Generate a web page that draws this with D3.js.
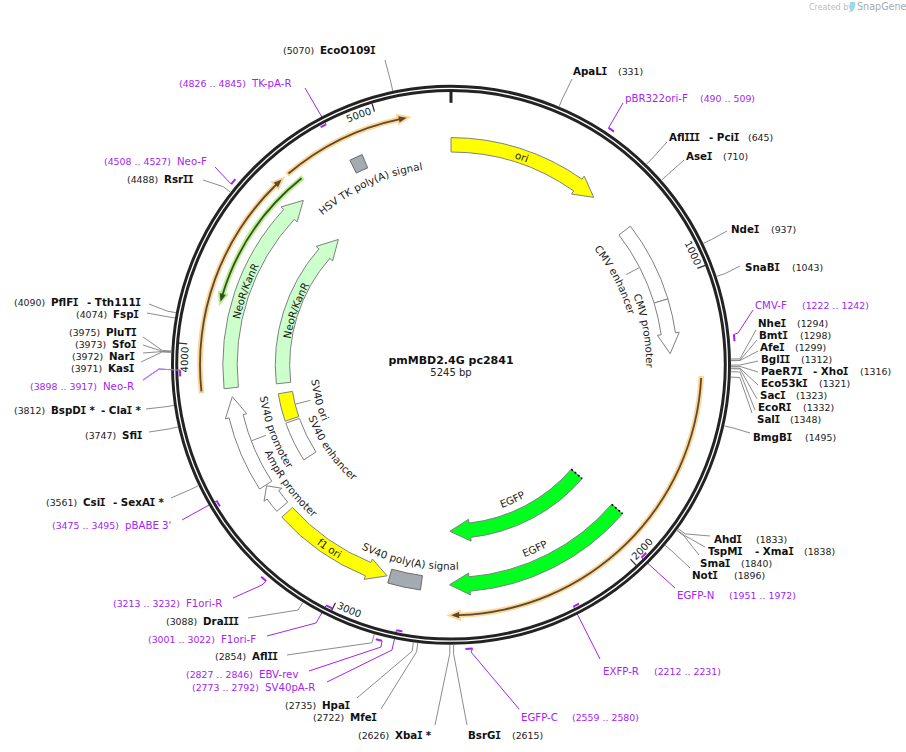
<!DOCTYPE html>
<html><head><meta charset="utf-8">
<script src="https://cdn.jsdelivr.net/npm/d3@7"></script>
<style>
html,body{margin:0;padding:0;background:#fff}
svg{display:block}
text{font-family:"DejaVu Sans",sans-serif}
</style></head><body><div id="c"></div>
<script>
// ---------- data ----------
const plasmidName = "pmMBD2.4G pc2841";
const plasmidLength = 5245;
const tickValues = [1000,2000,3000,4000,5000];

const featureNames  = ["ori","CMV enhancer","CMV promoter","orf-a","EGFP","EGFP","SV40 poly(A) signal","f1 ori","AmpR promoter","SV40 promoter","SV40 enhancer","SV40 ori","NeoR/KanR","NeoR/KanR","orf-b","orf-c","orf-d","HSV TK poly(A) signal"];
const featureStarts = [0,762,1065,1355,1908,1908,2735,2868,3350,3453,3455,3660,3846,3843,3845,4157,4657,4862];
const featureEnds   = [589,1065,1269,2622,2628,2628,2858,3322,3449,3813,3650,3795,4634,4634,4627,4681,5097,4911];
const featureDirs   = [1,0,1,1,1,1,0,-1,1,1,0,0,1,1,1,-1,1,0];

const siteNames  = ["EcoO109I","ApaLI","AflIII","AseI","NdeI","SnaBI","NheI","BmtI","AfeI","BglII","PaeR7I","Eco53kI","SacI","EcoRI","SalI","BmgBI","AhdI","TspMI","SmaI","NotI","BsrGI","XbaI *","MfeI","HpaI","AflII","DraIII","CsiI","SfiI","BspDI *","KasI","NarI","SfoI","PluTI","FspI","PflFI","RsrII"];
const siteAlso   = ["","","- PciI","","","","","","","","- XhoI","","","","","","","- XmaI","","","","","","","","","- SexAI *","","- ClaI *","","","","","","- Tth111I",""];
const siteBp     = [5070,331,645,710,937,1043,1294,1298,1299,1312,1316,1321,1323,1332,1348,1495,1833,1838,1840,1896,2615,2626,2722,2735,2854,3088,3561,3747,3812,3971,3972,3973,3975,4074,4090,4488];

const primerNames  = ["pBR322ori-F","CMV-F","EGFP-N","EXFP-R","EGFP-C","SV40pA-R","EBV-rev","F1ori-F","F1ori-R","pBABE 3'","Neo-R","Neo-F","TK-pA-R"];
const primerStarts = [490,1222,1951,2212,2559,2773,2827,3001,3213,3475,3898,4508,4826];
const primerEnds   = [509,1242,1972,2231,2580,2792,2846,3022,3232,3495,3917,4527,4845];
const primerDirs   = [1,1,-1,-1,1,-1,1,-1,1,-1,-1,1,-1];

// ---------- layout (no values) ----------
const W=906,H=752,cx=451,cy=364.8;
const featureLayout = [
 [220,"yellow"],[219.5,"white"],[219.5,"white"],[250.5,"orange"],[220,"egfp"],[166.5,"egfp"],[220,"gray"],
 [220.5,"yellow"],[220.5,"white"],[221,"white"],[168,"white"],[168,"yellow"],[221,"lime"],[168.5,"lime"],
 [251,"orange"],[239,"green"],[251,"orange"],[221,"gray"]];
// site label: leader end x,y ; name x ; number x ; baseline ; also x
const siteLayout = [
 [385,60,320,283,54],[572,79,573,618,75],[667,142,669,748,141,709],[684,160,686,723,160],[727,231,731,771,233],[740,266,745,792,271],
 [756,330,758,797,327],[757,340,759,800,339],[758,351,760,795,351],[758,361,761,801,363],[758,372,761,860,375,813],[758,385,761,819,387],
 [757,399,760,796,399],[755,410,758,803,411],[752,413,757,790,423],[750,433,753,805,441],
 [710,536,714,756,543],[705,547,708,804,555,755],[699,555,700,741,567],[690,568,692,734,579],
 [467,725,468,512,739],[435,725,395,358,739],[381,709,350,313,721],[357,698,322,285,709],[287,655,252,215,660],[248,618,203,166,625],
 [171,498,83,46,506,113],[149,432,122,85,439],[146,409,51,14,414,101],[141,362,108,71,372],[143,353,109,72,360],[143,345,112,75,348],[143,337,106,69,336],
 [147,313,113,76,318],[149,304,51,14,306,87],[203,180,164,127,183]];
const siteElbowR = siteBp.map(()=>289);
// primer label: elbow x,y (or null) ; end x,y ; name x ; number x ; baseline
const primerLayout = [
 [null,623,103,625,700,102],[738,333,753,310,755,802,309],[null,675,588,677,729,599],[null,600,659,603,654,675],[471,652,519,709,521,572,721],
 [392,650,327,682,265,192,691],[381,647,309,671,259,186,678],[316,623,267,636,221,148,643],[262,585,233,598,186,113,607],
 [null,182,520,125,52,529],[159,369,143,380,103,30,390],[null,215,167,177,104,165],[null,305,88,252,179,87]];
const overRingPrimer = 10; // this leader is visibly painted across the ring
// curved labels: name, centre angle in degrees, baseline radius, direction
const curvedLabels = [
 ["ori",18.8,216,1],["CMV enhancer",62.6,184,1],["CMV promoter",80,195,1],["EGFP",155.5,206,-1],["EGFP",155.5,152,-1],
 ["SV40 poly(A) signal",191.9,205,-1],["f1 ori",213.5,224,-1],["AmpR promoter",233.5,206,-1],["SV40 promoter",249,194,-1],
 ["SV40 enhancer",235,152,-1],["SV40 ori",255,140.5,-1],["NeoR/KanR",289.7,216,1],["NeoR/KanR",289.3,162.5,1],["HSV TK poly(A) signal",335.5,197,1]];
const colors = {
 yellow:{fill:"#ffff00",stroke:"#808080"},white:{fill:"#ffffff",stroke:"#808080"},egfp:{fill:"#00ff1e",stroke:"#808080"},
 lime:{fill:"#ccffcc",stroke:"#808080"},gray:{fill:"#a4aab2",stroke:"#6b6b6b"}};
const halos = {orange:{halo:"#fdd596",line:"#5c4a30"},green:{halo:"#b9ee92",line:"#33521c"}};
const purple="#a425f0", leaderGray="#8c8c8c", ringColor="#232323";

// ---------- scale ----------
const angle = d3.scaleLinear().domain([0,plasmidLength]).range([0,2*Math.PI]);
const polar = (a,r)=>[cx+r*Math.sin(a),cy-r*Math.cos(a)];
const toCanvas = a=>a-Math.PI/2;

const svg = d3.select("#c").append("svg").attr("width",W).attr("height",H).attr("viewBox",`0 0 ${W} ${H}`);
const defs = svg.append("defs");

// ---------- shape builders ----------
function arcShape(a0,a1,rm,hw,headHw,headPx,dir){
  const p=d3.path();
  if(dir===0){
    const s=polar(a0,rm+hw); p.moveTo(s[0],s[1]);
    p.arc(cx,cy,rm+hw,toCanvas(a0),toCanvas(a1),false);
    p.arc(cx,cy,rm-hw,toCanvas(a1),toCanvas(a0),true);
    p.closePath(); return p.toString();
  }
  const tail=dir>0?a0:a1, tip=dir>0?a1:a0, ccw=dir<0;
  const base=tip-dir*headPx/rm;
  const s=polar(tail,rm+hw); p.moveTo(s[0],s[1]);
  p.arc(cx,cy,rm+hw,toCanvas(tail),toCanvas(base),ccw);
  let q=polar(base,rm+headHw); p.lineTo(q[0],q[1]);
  q=polar(tip,rm); p.lineTo(q[0],q[1]);
  q=polar(base,rm-headHw); p.lineTo(q[0],q[1]);
  q=polar(base,rm-hw); p.lineTo(q[0],q[1]);
  p.arc(cx,cy,rm-hw,toCanvas(base),toCanvas(tail),!ccw);
  p.closePath(); return p.toString();
}
const features = featureNames.map((n,i)=>({n,s:featureStarts[i],e:featureEnds[i],d:featureDirs[i],r:featureLayout[i][0],st:featureLayout[i][1]}));

// bold names: the capital I is set with serifs, as in the picture
function boldRuns(t,str){
  str.split(/(I)/).filter(s=>s.length).forEach(run=>{
    const sp=t.append("tspan").text(run);
    if(run==="I") sp.attr("font-family","DejaVu Sans Mono").attr("dx",-0.6).attr("letter-spacing",-0.6);
  });
}

// ---------- primer leaders go below the ring ----------
const gP0=svg.append("g");
const line=d3.line();
const primerLeader=i=>{
  const L=primerLayout[i], fwd=primerDirs[i]>0;
  const from=fwd?polar(angle(primerStarts[i]),284.5):polar(angle(primerEnds[i]),271);
  return line(L[0]===null?[from,[L[1],L[2]]]:[from,[L[0],L[1]],[L[2],L[3]]]);
};
primerNames.forEach((n,i)=>{
  gP0.append("path").attr("d",primerLeader(i)).attr("fill","none").attr("stroke",purple).attr("stroke-width",1);
});

// ---------- ring ----------
const gRing = svg.append("g");
gRing.append("circle").attr("cx",cx).attr("cy",cy).attr("r",276.4).attr("fill","none").attr("stroke",ringColor).attr("stroke-width",7.2);
gRing.append("circle").attr("cx",cx).attr("cy",cy).attr("r",276.4).attr("fill","none").attr("stroke","#fff").attr("stroke-width",1.3);
svg.append("path").attr("d",primerLeader(overRingPrimer)).attr("fill","none").attr("stroke","#c07cf2").attr("stroke-width",1.2);

// zero tick
const t0=polar(angle(0),273),t1=polar(angle(0),262);
svg.append("line").attr("x1",t0[0]).attr("y1",t0[1]).attr("x2",t1[0]).attr("y2",t1[1]).attr("stroke","#232323").attr("stroke-width",3);

// ticks
tickValues.forEach((v,i)=>{
  const a=angle(v), p0=polar(a,273), p1=polar(a,264.5);
  svg.append("line").attr("x1",p0[0]).attr("y1",p0[1]).attr("x2",p1[0]).attr("y2",p1[1]).attr("stroke","#333").attr("stroke-width",1.3);
  const top=!(a>Math.PI/2&&a<Math.PI*1.3);
  const r=top?263:269, id="tick"+i, span=0.35;
  const pth=d3.path(), off=3/r;
  if(top){ const s=polar(a-off-span,r); pth.moveTo(s[0],s[1]); pth.arc(cx,cy,r,toCanvas(a-off-span),toCanvas(a-off),false); }
  else   { const s=polar(a-off,r); pth.moveTo(s[0],s[1]); pth.arc(cx,cy,r,toCanvas(a-off),toCanvas(a-off-span),true); }
  defs.append("path").attr("id",id).attr("d",pth.toString());
  svg.append("text").attr("font-size",10).attr("fill","#222").attr("text-anchor",top?"end":"start")
    .append("textPath").attr("href","#"+id).attr("startOffset",top?"100%":"0%").text(v);
});

// ---------- features ----------
const gF=svg.append("g");
features.forEach(f=>{
  const a0=angle(f.s),a1=angle(f.e);
  if(halos[f.st]){
    gF.append("path").attr("d",arcShape(a0,a1,f.r,0.9,3.2,8,f.d)).attr("fill",halos[f.st].line)
      .attr("stroke",halos[f.st].halo).attr("stroke-width",3.6).attr("stroke-linejoin","miter").style("paint-order","stroke");
    return;
  }
  const hw=7.2;
  const len=(a1-a0)*f.r, head=Math.min(20,len*0.42);
  const c=colors[f.st];
  gF.append("path").attr("d",arcShape(a0,a1,f.r,hw,11,head,f.d)).attr("fill",c.fill).attr("stroke",c.stroke).attr("stroke-width",1);
  if(f.st==="egfp"){
    const p=polar(a0,f.r-hw),q=polar(a0,f.r+hw);
    gF.append("line").attr("x1",p[0]).attr("y1",p[1]).attr("x2",q[0]).attr("y2",q[1]).attr("stroke","#000").attr("stroke-width",1.6).attr("stroke-dasharray","2 2.4");
  }
});

// connector stubs from small labels to their features
[[angle(914),212,197],[angle(3727),160.5,145],[angle(3630),213.5,198]].forEach(([a,r0,r1])=>{
  const p=polar(a,r0),q=polar(a,r1);
  gF.append("line").attr("x1",p[0]).attr("y1",p[1]).attr("x2",q[0]).attr("y2",q[1]).attr("stroke","#888").attr("stroke-width",1);
});

// ---------- curved labels ----------
curvedLabels.forEach(([t,deg,r,dir],i)=>{
  const a=deg*Math.PI/180, span=1.2, id="cl"+i, p=d3.path();
  const a0=a-dir*span, a1=a+dir*span, s=polar(a0,r);
  p.moveTo(s[0],s[1]); p.arc(cx,cy,r,toCanvas(a0),toCanvas(a1),dir<0);
  defs.append("path").attr("id",id).attr("d",p.toString());
  svg.append("text").attr("font-size",10.3).attr("fill","#1a1a1a").attr("text-anchor","middle")
    .append("textPath").attr("href","#"+id).attr("startOffset","50%").text(t);
});

// ---------- sites ----------
const gS=svg.append("g");
siteNames.forEach((n,i)=>{
  const a=angle(siteBp[i]), L=siteLayout[i];
  gS.append("path").attr("d",line([polar(a,280),polar(a,siteElbowR[i]),[L[0],L[1]]])).attr("fill","none").attr("stroke",leaderGray).attr("stroke-width",1);
  boldRuns(gS.append("text").attr("x",L[2]).attr("y",L[4]).attr("font-size",10.3).attr("font-weight","bold").attr("fill","#111"),n);
  if(siteAlso[i]) boldRuns(gS.append("text").attr("x",L[5]).attr("y",L[4]).attr("font-size",10.3).attr("font-weight","bold").attr("fill","#111"),siteAlso[i]);
  gS.append("text").attr("x",L[3]).attr("y",L[4]).attr("font-size",9.4).attr("fill","#222").text(`(${siteBp[i]})`);
});

// ---------- primers ----------
const gP=svg.append("g");
primerNames.forEach((n,i)=>{
  const a0=angle(primerStarts[i]),a1=angle(primerEnds[i]),r=primerDirs[i]>0?284.5:271,L=primerLayout[i];
  const p=d3.path(),s=polar(a0,r); p.moveTo(s[0],s[1]); p.arc(cx,cy,r,toCanvas(a0),toCanvas(a1),false);
  gP.append("path").attr("d",p.toString()).attr("fill","none").attr("stroke",purple).attr("stroke-width",2);
  const o=L[0]===null?3:4;
  gP.append("text").attr("x",L[o]).attr("y",L[o+2]).attr("font-size",10.2).attr("fill",purple).text(n);
  gP.append("text").attr("x",L[o+1]).attr("y",L[o+2]).attr("font-size",9.4).attr("fill",purple).text(`(${primerStarts[i]} .. ${primerEnds[i]})`);
});

// ---------- centre ----------
svg.append("text").attr("x",cx).attr("y",364).attr("text-anchor","middle").attr("font-size",11).attr("font-weight","bold").attr("fill","#111").text(plasmidName);
svg.append("text").attr("x",cx).attr("y",376).attr("text-anchor","middle").attr("font-size",10).attr("fill","#222").text(plasmidLength+" bp");

// ---------- watermark ----------
const gW=svg.append("g");
gW.append("text").attr("x",809).attr("y",10).attr("font-size",8).attr("fill","#bdbdbd").attr("font-family","Roboto").text("Created by");
gW.append("path").attr("d","M850 2 L855 2 C856 5 855 8 853 11 L851 12 C849 8 850 5 850 2Z").attr("fill","#9fd8ee");
gW.append("text").attr("x",857).attr("y",10).attr("font-size",9.6).attr("fill","#a5abb0").attr("font-family","Roboto").text("SnapGene");
</script></body></html>
